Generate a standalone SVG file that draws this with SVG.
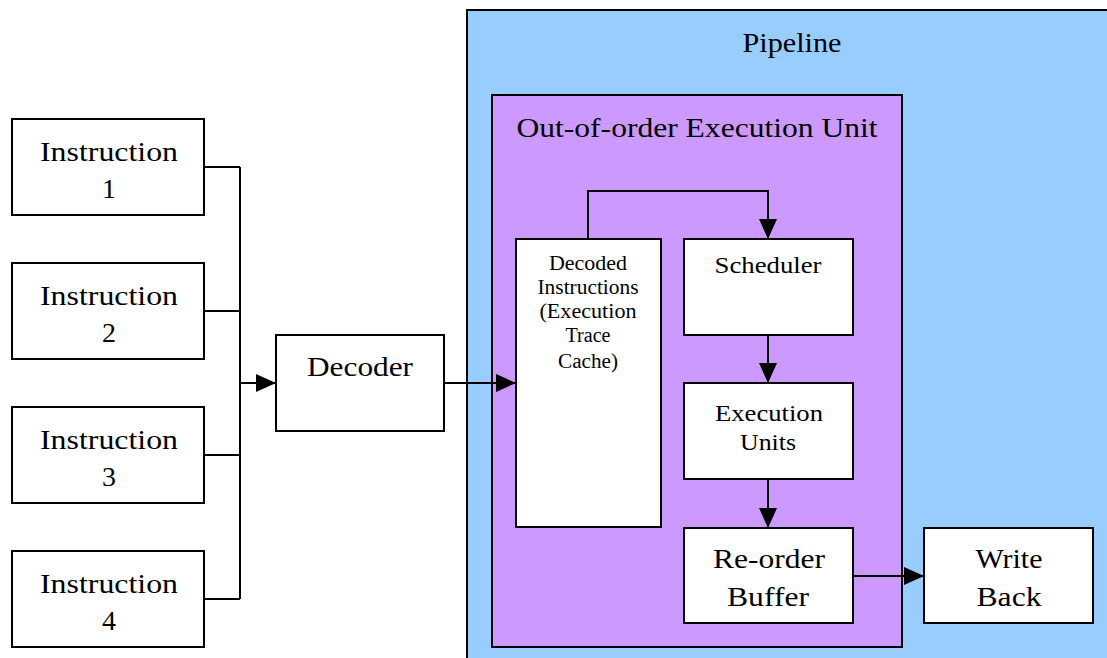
<svg xmlns="http://www.w3.org/2000/svg" width="1107" height="658" viewBox="0 0 1107 658">
  <style>
    .box { fill: #ffffff; stroke: #000000; stroke-width: 2; }
    .wire { fill: none; stroke: #000000; stroke-width: 2; }
    .lbl { font-family: "Liberation Serif", "Times New Roman", serif; fill: #000000; text-anchor: middle; }
    .big { font-size: 28px; }
    .mid { font-size: 24px; }
    .small { font-size: 20px; }
  </style>
  <defs>
    <marker id="arrow" viewBox="0 0 20 18" refX="20" refY="9" markerWidth="20" markerHeight="18" markerUnits="userSpaceOnUse" orient="auto">
      <path d="M0,0 L20,9 L0,18 z" fill="#000000"/>
    </marker>
  </defs>
  <rect width="1107" height="658" fill="#ffffff"/>

  <!-- Pipeline container -->
  <g id="pipeline">
    <rect x="467" y="10" width="700" height="700" fill="#99ccff" stroke="#000000" stroke-width="2"/>
    <text class="lbl big" x="792" y="52" textLength="99" lengthAdjust="spacingAndGlyphs">Pipeline</text>
  </g>

  <!-- Out-of-order execution unit container -->
  <g id="ooo-unit">
    <rect x="492" y="95" width="410" height="552" fill="#cc99ff" stroke="#000000" stroke-width="2"/>
    <text class="lbl big" x="697" y="137" textLength="361" lengthAdjust="spacingAndGlyphs">Out-of-order Execution Unit</text>
  </g>

  <g id="instruction-1">
    <rect class="box" x="12" y="119" width="192" height="96"/>
    <text class="lbl big" x="109" y="161" textLength="138" lengthAdjust="spacingAndGlyphs">Instruction</text>
    <text class="lbl big" x="109" y="198">1</text>
  </g>
  <g id="instruction-2">
    <rect class="box" x="12" y="263" width="192" height="96"/>
    <text class="lbl big" x="109" y="305" textLength="138" lengthAdjust="spacingAndGlyphs">Instruction</text>
    <text class="lbl big" x="109" y="342">2</text>
  </g>
  <g id="instruction-3">
    <rect class="box" x="12" y="407" width="192" height="96"/>
    <text class="lbl big" x="109" y="449" textLength="138" lengthAdjust="spacingAndGlyphs">Instruction</text>
    <text class="lbl big" x="109" y="486">3</text>
  </g>
  <g id="instruction-4">
    <rect class="box" x="12" y="551" width="192" height="96"/>
    <text class="lbl big" x="109" y="593" textLength="138" lengthAdjust="spacingAndGlyphs">Instruction</text>
    <text class="lbl big" x="109" y="630">4</text>
  </g>

  <g id="decoder">
    <rect class="box" x="276" y="335" width="168" height="96"/>
    <text class="lbl big" x="360" y="376" textLength="106" lengthAdjust="spacingAndGlyphs">Decoder</text>
  </g>

  <g id="trace-cache">
    <rect class="box" x="516" y="239" width="145" height="288"/>
    <text class="lbl small" x="588" y="270" textLength="78" lengthAdjust="spacingAndGlyphs">Decoded</text>
    <text class="lbl small" x="588" y="294" textLength="101" lengthAdjust="spacingAndGlyphs">Instructions</text>
    <text class="lbl small" x="588" y="318" textLength="97" lengthAdjust="spacingAndGlyphs">(Execution</text>
    <text class="lbl small" x="588" y="342" textLength="45" lengthAdjust="spacingAndGlyphs">Trace</text>
    <text class="lbl small" x="588" y="368" textLength="60" lengthAdjust="spacingAndGlyphs">Cache)</text>
  </g>

  <g id="scheduler">
    <rect class="box" x="684" y="239" width="169" height="96"/>
    <text class="lbl mid" x="768" y="273" textLength="107" lengthAdjust="spacingAndGlyphs">Scheduler</text>
  </g>

  <g id="execution-units">
    <rect class="box" x="684" y="383" width="169" height="96"/>
    <text class="lbl mid" x="769" y="421" textLength="108" lengthAdjust="spacingAndGlyphs">Execution</text>
    <text class="lbl mid" x="768" y="450" textLength="56" lengthAdjust="spacingAndGlyphs">Units</text>
  </g>

  <g id="reorder-buffer">
    <rect class="box" x="684" y="528" width="169" height="95"/>
    <text class="lbl big" x="769" y="568" textLength="112" lengthAdjust="spacingAndGlyphs">Re-order</text>
    <text class="lbl big" x="768" y="606" textLength="82" lengthAdjust="spacingAndGlyphs">Buffer</text>
  </g>

  <g id="write-back">
    <rect class="box" x="924" y="528" width="169" height="95"/>
    <text class="lbl big" x="1009" y="568" textLength="67" lengthAdjust="spacingAndGlyphs">Write</text>
    <text class="lbl big" x="1009" y="606" textLength="65" lengthAdjust="spacingAndGlyphs">Back</text>
  </g>

  <g id="connectors">
    <!-- instruction bus -->
    <path class="wire" d="M204,167 H240 M204,311 H240 M204,455 H240 M204,599 H240 M240,167 V599"/>
    <path class="wire" d="M240,383 H276" marker-end="url(#arrow)"/>
    <path class="wire" d="M444,383 H516" marker-end="url(#arrow)"/>
    <path class="wire" d="M588,239 V191 H768 V239" marker-end="url(#arrow)"/>
    <path class="wire" d="M768,335 V383" marker-end="url(#arrow)"/>
    <path class="wire" d="M768,479 V528" marker-end="url(#arrow)"/>
    <path class="wire" d="M853,576 H924" marker-end="url(#arrow)"/>
  </g>
</svg>
